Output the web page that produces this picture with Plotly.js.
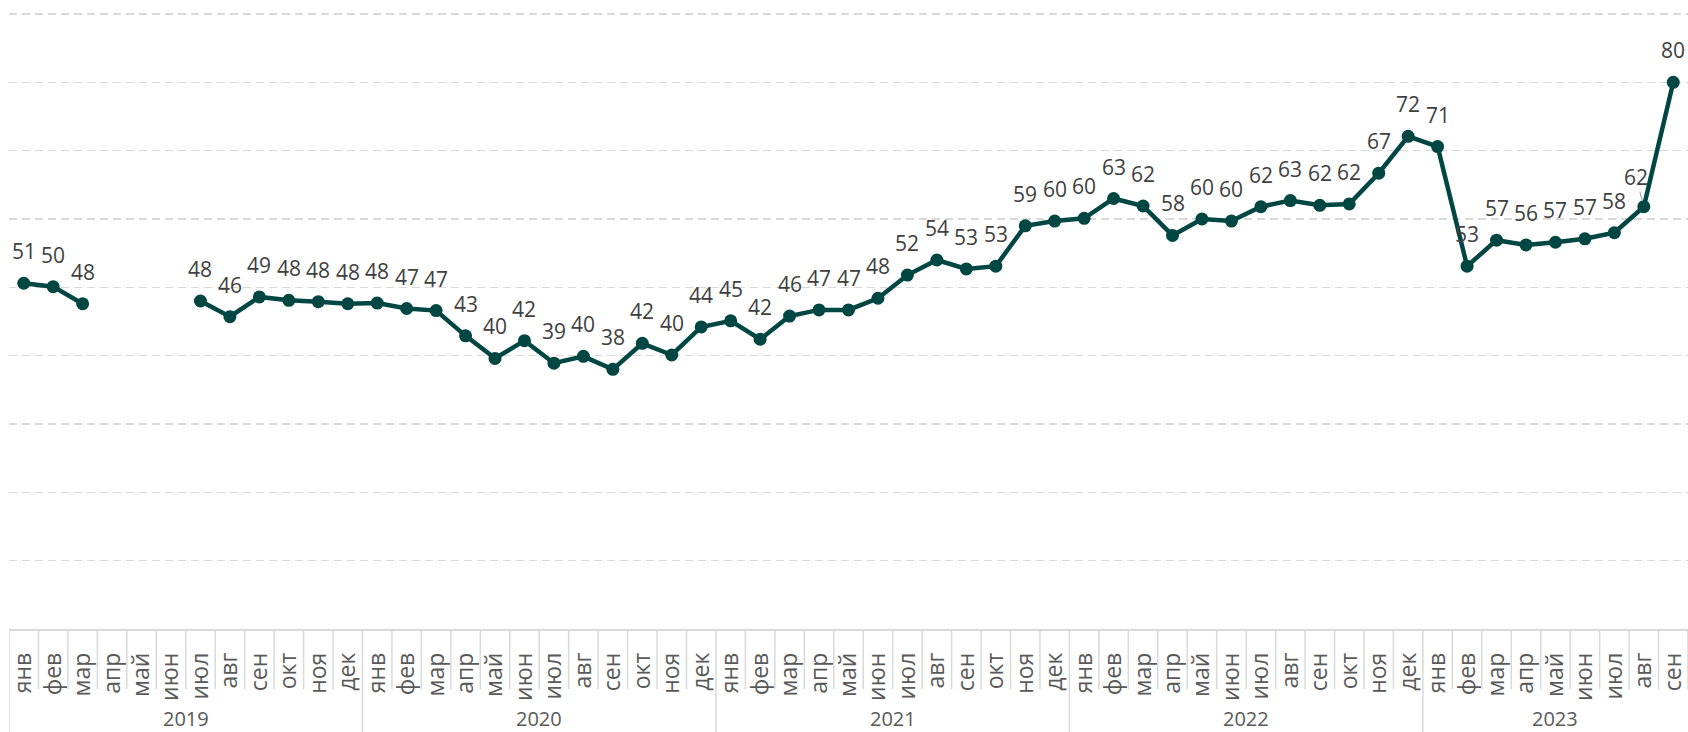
<!DOCTYPE html>
<html>
<head>
<meta charset="utf-8">
<script src="https://cdn.plot.ly/plotly-3.0.1.min.js"></script>
<style>
  html, body { margin: 0; padding: 0; background: #ffffff; }
  #chart { width: 1688px; height: 732px; }
</style>
</head>
<body>
<div id="chart"></div>
<script>
// ---- data ----
const monthNames = ['янв','фев','мар','апр','май','июн','июл','авг','сен','окт','ноя','дек'];
const years = ['2019','2020','2021','2022','2023'];
const monthsInYear = [12, 12, 12, 12, 9];

const values2019 = [50.6, 50.1, 47.6, null, null, null, 48.0, 45.7, 48.6, 48.1, 47.9, 47.6];
const values2020 = [47.7, 46.9, 46.6, 42.9, 39.6, 42.2, 38.9, 39.9, 38.0, 41.8, 40.1, 44.2];
const values2021 = [45.1, 42.4, 45.8, 46.7, 46.7, 48.4, 51.8, 54.0, 52.7, 53.1, 59.0, 59.7];
const values2022 = [60.1, 63.0, 61.9, 57.6, 60.0, 59.7, 61.8, 62.7, 62.0, 62.2, 66.7, 72.1];
const values2023 = [70.6, 53.1, 56.9, 56.2, 56.6, 57.1, 58.0, 61.8, 80.0];

// ---- build series ----
const yearValues = [values2019, values2020, values2021, values2022, values2023];
const xs = [], ys = [], tickText = [], yearStart = [];
yearValues.forEach((arr, yi) => {
  yearStart.push(xs.length);
  for (let m = 0; m < monthsInYear[yi]; m++) {
    xs.push(xs.length);
    ys.push(arr[m]);
    tickText.push(monthNames[m]);
  }
});
const n = xs.length;

// ---- styling constants ----
const W = 1688, H = 732;
const mT = 12, mB = 103, mL = 9, mR = 0;
const plotH = H - mT - mB;
const pxPerUnit = 615 / 90;
const yTop = plotH / pxPerUnit;
const px2paperY = (py) => -((py - (H - mB)) / plotH);
const lineColor = '#004643';
const boxColor = '#d9d9d9';
const fontFam = 'Open Sans, Noto Sans, sans-serif';
const labelFont = { family: fontFam, size: 21, color: '#404040' };

// label tweaks (index -> offset in px)
const labelTweaks = { 55: { dx: -8, dy: 30, leader: true } };

const annotations = [];
xs.forEach((x, i) => {
  const v = ys[i];
  if (v === null) return;
  const t = labelTweaks[i];
  if (t && t.leader) {
    annotations.push({
      x: x, y: v, xref: 'x', yref: 'y',
      text: String(Math.round(v)),
      showarrow: true, arrowhead: 0, arrowwidth: 1.2, arrowcolor: '#a6a6a6',
      ax: t.dx, ay: -t.dy, standoff: 6,
      font: labelFont
    });
  } else {
    annotations.push({
      x: x, y: v, xref: 'x', yref: 'y',
      text: String(Math.round(v)),
      showarrow: false, yshift: 32,
      font: labelFont
    });
  }
});

// year labels
years.forEach((yr, yi) => {
  const s = yearStart[yi];
  const e = s + monthsInYear[yi] - 1;
  annotations.push({
    x: (s + e) / 2, y: px2paperY(719), xref: 'x', yref: 'paper',
    text: yr, showarrow: false, xanchor: 'center', yanchor: 'middle',
    font: { family: fontFam, size: 20, color: '#595959' }
  });
});

// category box separators
const shapes = [];
const monthRowBottom = px2paperY(689);
const fullBottom = px2paperY(H + 2);
for (let i = 0; i <= n; i++) {
  const isYearEdge = yearStart.includes(i) || i === 0;
  shapes.push({
    type: 'line', xref: 'x', yref: 'paper',
    x0: i - 0.5, x1: i - 0.5, y0: 0, y1: isYearEdge ? fullBottom : monthRowBottom,
    line: { color: boxColor, width: 1.5 }
  });
}

const trace = {
  x: xs, y: ys,
  type: 'scatter', mode: 'lines+markers',
  connectgaps: false,
  line: { color: lineColor, width: 4.5 },
  marker: { color: lineColor, size: 13 },
  hoverinfo: 'skip'
};

const layout = {
  width: W, height: H,
  margin: { t: mT, b: mB, l: mL, r: mR, pad: 0 },
  paper_bgcolor: '#ffffff', plot_bgcolor: '#ffffff',
  showlegend: false,
  xaxis: {
    type: 'linear', range: [-0.5, n - 0.5],
    tickmode: 'array', tickvals: xs, ticktext: tickText,
    tickangle: -90, ticks: '', ticklabelstandoff: 13,
    tickfont: { family: fontFam, size: 23, color: '#595959' },
    showgrid: false, zeroline: false,
    showline: true, linecolor: boxColor, linewidth: 1.5,
    fixedrange: true
  },
  yaxis: {
    range: [0, yTop], tickmode: 'array', tickvals: [10, 20, 30, 40, 50, 60, 70, 80, 90],
    showticklabels: false, ticks: '',
    showgrid: true, gridcolor: boxColor, gridwidth: 1.5, griddash: '8px,5px',
    zeroline: false, showline: false, fixedrange: true
  },
  shapes: shapes,
  annotations: annotations
};

Plotly.newPlot('chart', [trace], layout, { displayModeBar: false, staticPlot: true });
</script>
</body>
</html>
